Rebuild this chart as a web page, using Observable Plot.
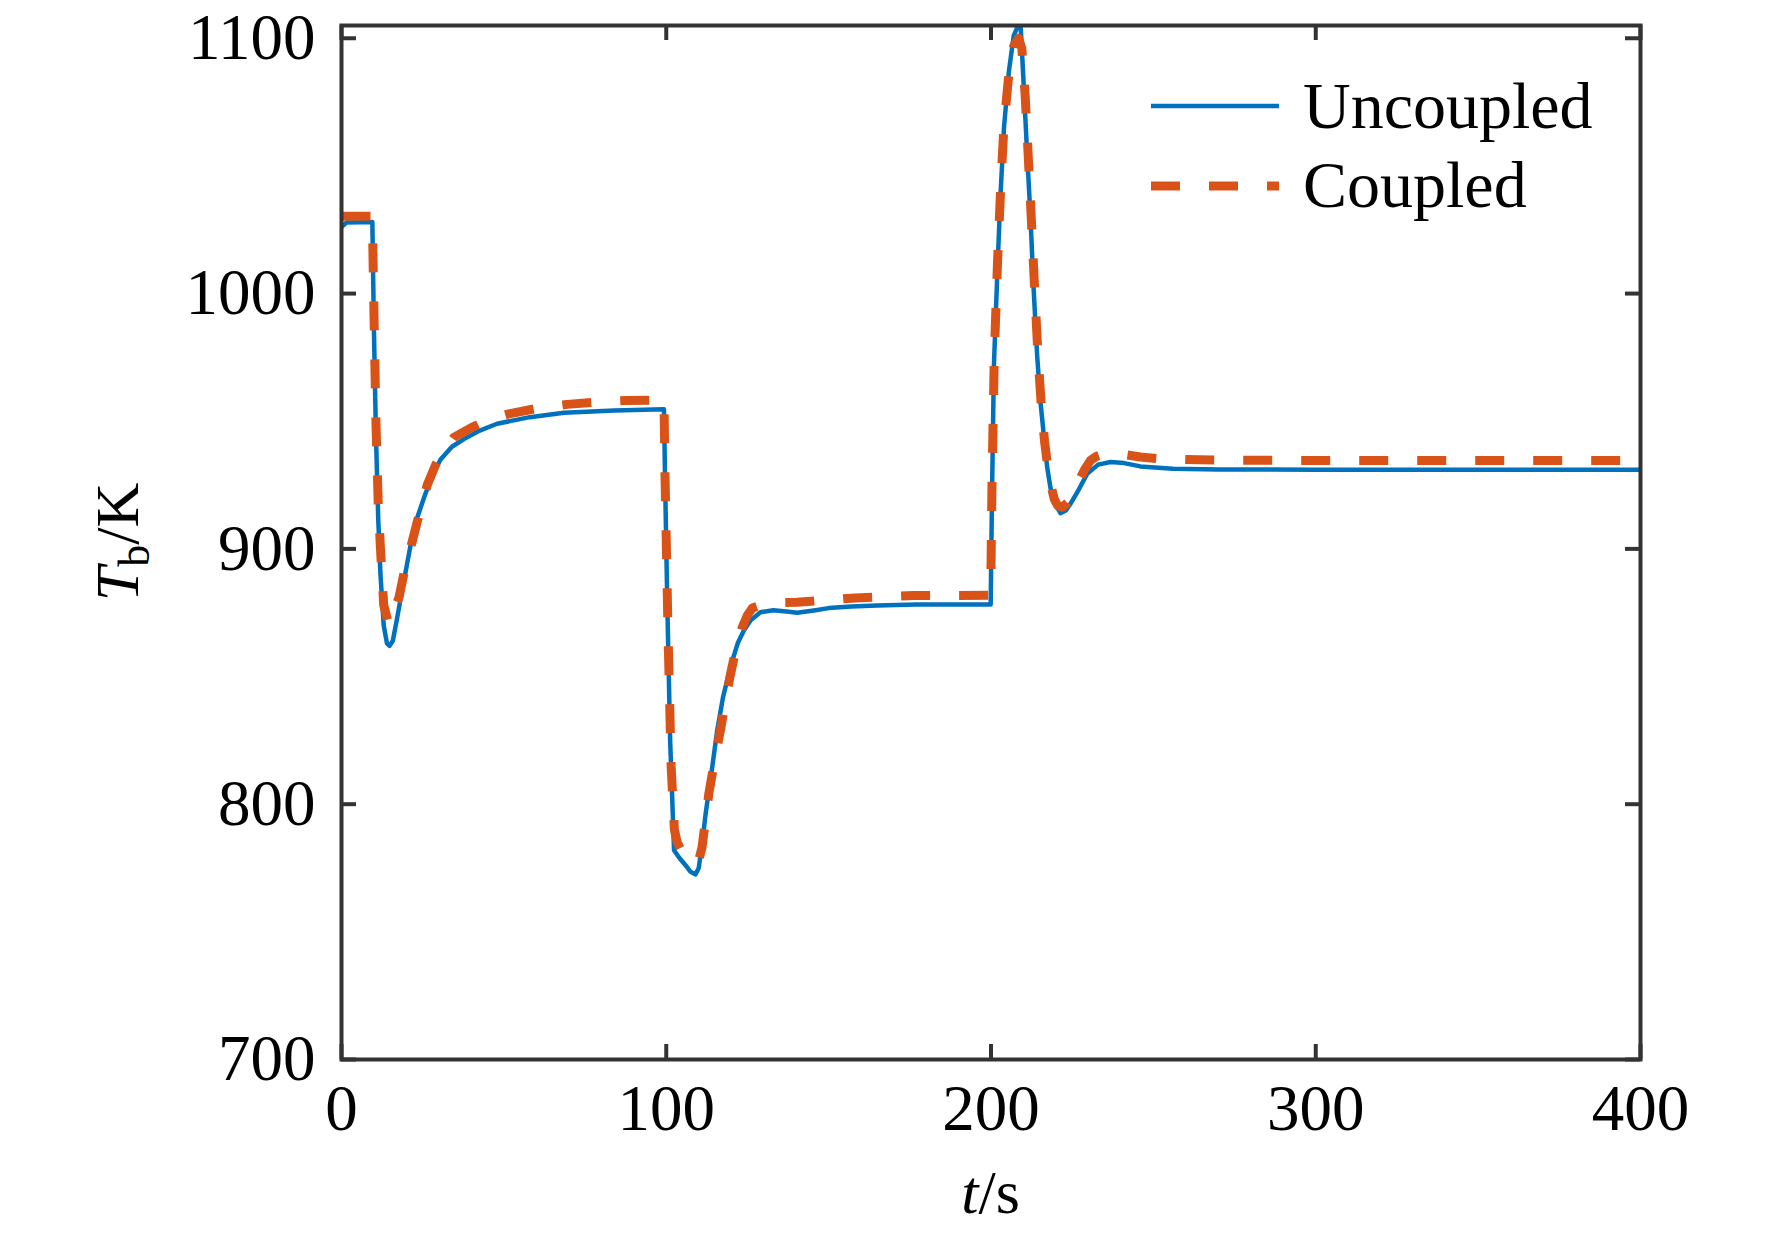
<!DOCTYPE html>
<html>
<head>
<meta charset="utf-8">
<script src="https://cdn.jsdelivr.net/npm/d3@7"></script>
<script src="https://cdn.jsdelivr.net/npm/@observablehq/plot@0.6"></script>
<style>
  html, body { margin: 0; padding: 0; background: #fff; }
  #chart svg { display: block; }
</style>
</head>
<body>
<div id="chart"></div>
<script>
// ---- data ----
const tUncoupled = [0, 1.5, 9.5, 10, 10.6, 11.3, 12, 13, 14, 14.8, 15.8, 17, 19, 21.2, 23, 25.4, 28, 30.5, 34, 37.7, 42, 47.9, 58, 68.5, 84, 99.3,
  99.6, 100.3, 101.2, 102.4, 104, 106, 107.5, 109, 110, 111, 112.1, 114, 115.7, 117.5, 119.8, 122, 123.9, 126, 129, 133, 137, 140.3, 146, 150, 157, 165, 177, 199.9,
  200.3, 200.9, 202, 202.9, 204, 205.5, 207, 208, 209.1, 210.1, 211, 212.2, 213, 214.2, 215.2, 216.3, 217.3, 218.3, 219.5, 221.4, 223, 224.5, 226.5, 229.6, 233, 236.8, 241, 246, 256, 270, 300, 400];
const vUncoupled = [1026, 1027.8, 1028, 985, 945, 912, 890, 870, 863, 862, 864, 872, 886, 901, 911, 920, 929, 935, 940, 943, 946, 949, 951.6, 953.3, 954.2, 954.7,
  930, 880, 825, 782, 779, 776, 773.5, 772.5, 775, 784, 796, 813, 829, 842, 854, 863, 868, 872, 875.2, 876, 875.5, 875, 876, 876.8, 877.4, 877.8, 878.2, 878.2,
  920, 972, 1010, 1038, 1065, 1087, 1101, 1104, 1105.5, 1081, 1058, 1029, 1005, 976, 958, 944, 932, 924, 918, 914, 915, 917.7, 922, 929.4, 933, 934, 933.6, 932.3, 931.4, 931.1, 931, 931];

const tCoupled = [0, 9.5, 10, 10.6, 11.3, 12, 13, 14.5, 15.5, 16.5, 17.7, 19.5, 21.8, 24, 26.4, 29, 31.5, 34.6, 40, 45, 51.5, 60, 69.5, 80, 87.5, 99.3,
  99.6, 100.5, 101.5, 102.5, 103.4, 105, 107, 108.5, 110, 111, 112, 113.1, 115, 116.7, 118.3, 119.8, 121.5, 123.4, 125, 126.5, 130, 135, 140.3, 150, 158.3, 170, 176, 199.9,
  200.3, 201, 202, 203, 204, 205.5, 207, 208.5, 209.5, 210.5, 211.5, 212.5, 213.5, 214.5, 215.5, 216.5, 217.5, 218.5, 219.5, 220.5, 221.9, 223.5, 225, 227, 228.8, 230.6, 232.5, 234.7, 237.7, 241, 246, 252, 260, 270, 300, 400];
const vCoupled = [1030.3, 1030.3, 992, 950, 918, 900, 878, 870.5, 872, 877, 881, 892, 903, 914, 925, 933, 938.5, 943.7, 947.5, 950.5, 952.9, 955, 956.6, 957.6, 958.1, 958.3,
  930, 870, 815, 790, 785, 781, 778, 777, 778, 783, 793, 804, 818, 829, 841, 851, 861, 869.3, 874, 876.8, 878.3, 879, 879.1, 880, 880.8, 881.4, 881.7, 881.8,
  925, 975, 1012, 1042, 1066, 1086, 1097, 1100, 1096, 1078, 1053, 1027, 1000, 975, 956, 942, 932, 924.5, 919.5, 917, 916.3, 918, 921, 926.5, 931, 934.6, 936.3, 937.2, 937.5, 937, 936, 935.3, 935, 934.8, 934.6, 934.6];

const xTicks = [0, 100, 200, 300, 400];
const yTicks = [700, 800, 900, 1000, 1100];
const seriesNames = ["Uncoupled", "Coupled"];
const colors = ["#0072BD", "#D95319"];

const uncoupled = tUncoupled.map((t, i) => ({t, v: vUncoupled[i]}));
const coupled = tCoupled.map((t, i) => ({t, v: vCoupled[i]}));

// ---- layout ----
const W = 1772, H = 1234;
const mL = 341, mR = 132, mT = 25, mB = 175;
const innerW = W - mL - mR, innerH = H - mT - mB;
const tickLen = 15;
const axisColor = "#333333";
const font = "'Liberation Serif', 'Times New Roman', serif";

const chart = Plot.plot({
  width: W, height: H,
  marginLeft: mL, marginRight: mR, marginTop: mT, marginBottom: mB,
  x: {domain: [0, 400]},
  y: {domain: [700, 1105]},
  style: {fontFamily: font, background: "white", color: "black"},
  marks: [
    Plot.line(uncoupled, {x: "t", y: "v", stroke: colors[0], strokeWidth: 4.5, clip: true}),
    Plot.line(coupled, {x: "t", y: "v", stroke: colors[1], strokeWidth: 9, strokeDasharray: "29 29", strokeLinecap: "butt", clip: true}),
    Plot.frame({stroke: axisColor, strokeWidth: 4}),
    Plot.ruleX(xTicks, {x: d => d, stroke: axisColor, strokeWidth: 4, insetTop: innerH - tickLen}),
    Plot.ruleX(xTicks, {x: d => d, stroke: axisColor, strokeWidth: 4, insetBottom: innerH - tickLen}),
    Plot.ruleY(yTicks, {y: d => d, stroke: axisColor, strokeWidth: 4, insetRight: innerW - tickLen}),
    Plot.ruleY(yTicks, {y: d => d, stroke: axisColor, strokeWidth: 4, insetLeft: innerW - tickLen}),
    Plot.axisX(xTicks, {tickSize: 0, tickPadding: 24, fontSize: 65, label: null, tickFormat: d => String(d)}),
    Plot.axisY(yTicks, {tickSize: 0, tickPadding: 26, fontSize: 65, label: null, tickFormat: d => String(d)})
  ]
});
document.getElementById("chart").appendChild(chart);

// ---- axis labels and legend (text added to the same SVG) ----
const svg = d3.select(chart);

// x label: t/s
const xl = svg.append("text")
  .attr("x", mL + innerW / 2).attr("y", 1213)
  .attr("text-anchor", "middle")
  .style("font-family", font).style("font-size", "62px").attr("fill", "black");
xl.append("tspan").style("font-style", "italic").text("t");
xl.append("tspan").text("/s");

// y label: T_b/K
const yl = svg.append("text")
  .attr("transform", `translate(138,${mT + innerH / 2}) rotate(-90)`)
  .attr("text-anchor", "middle")
  .style("font-family", font).style("font-size", "62px").attr("fill", "black");
yl.append("tspan").style("font-style", "italic").text("T");
yl.append("tspan").attr("dy", "0.25em").style("font-size", "44px").text("b");
yl.append("tspan").attr("dy", "-0.18em").text("/K");

// legend
const lg = svg.append("g");
const legendY = [106, 186];
const legendText = [128, 207];
seriesNames.forEach((name, i) => {
  lg.append("line")
    .attr("x1", 1151).attr("x2", 1279)
    .attr("y1", legendY[i]).attr("y2", legendY[i])
    .attr("stroke", colors[i])
    .attr("stroke-width", i === 0 ? 4.5 : 9)
    .attr("stroke-dasharray", i === 0 ? null : "29 29");
  lg.append("text")
    .attr("x", 1303).attr("y", legendText[i])
    .attr("text-anchor", "start")
    .style("font-family", font).style("font-size", "66px").attr("fill", "black")
    .text(name);
});
</script>
</body>
</html>
